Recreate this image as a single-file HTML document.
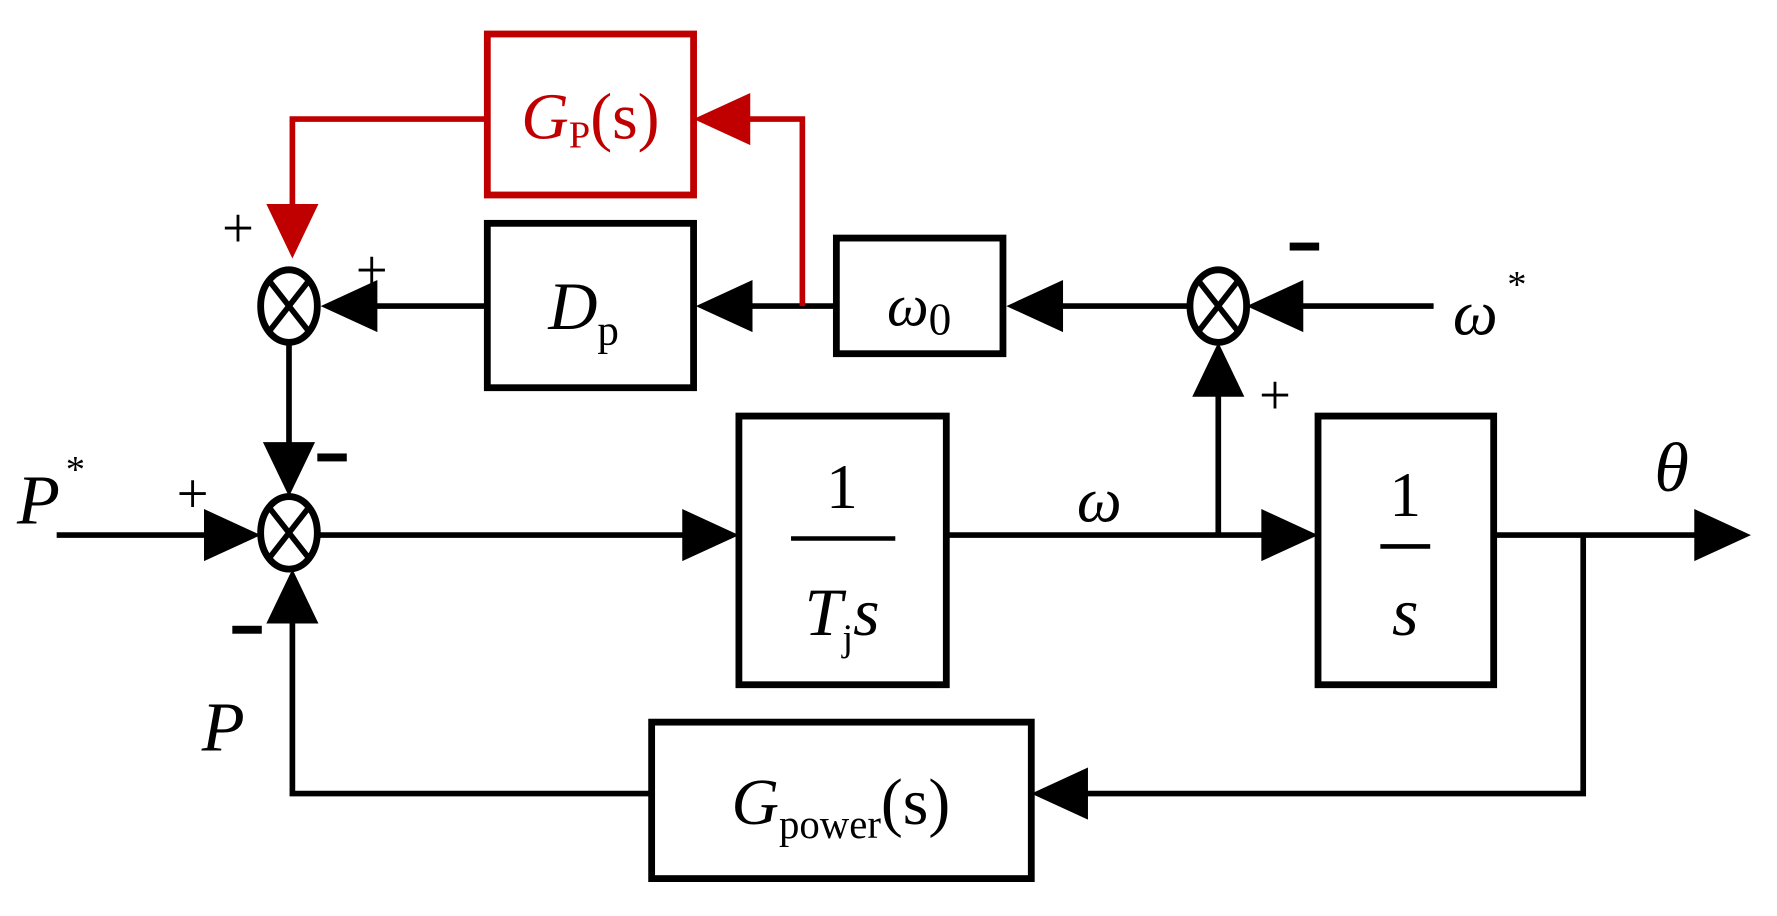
<!DOCTYPE html>
<html><head><meta charset="utf-8"><style>html,body{margin:0;padding:0;background:#fff;}svg{display:block}</style></head>
<body>
<svg width="1777" height="916" viewBox="0 0 1568 808" preserveAspectRatio="none" xmlns="http://www.w3.org/2000/svg" font-family="Liberation Serif, serif">
<defs>
<marker id="a" markerWidth="10" markerHeight="10" refX="10" refY="5" orient="auto" markerUnits="userSpaceOnUse" viewBox="0 0 10 10"><path d="M0,0 L10,5 L0,10 z" fill="#000"/></marker>
</defs>
<g fill="none" stroke="#000" stroke-width="6">
<!-- boxes -->
<rect x="430" y="197" width="182" height="145"/>
<rect x="738" y="210" width="147" height="102"/>
<rect x="652" y="367" width="183" height="237"/>
<rect x="1163" y="367" width="155" height="237"/>
<rect x="575" y="637" width="335" height="138"/>
<!-- sums -->
<ellipse cx="255" cy="270" rx="25" ry="32"/>
<ellipse cx="1075" cy="270" rx="25" ry="32"/>
<ellipse cx="255" cy="470" rx="25" ry="32"/>
</g>
<g stroke="#000" stroke-width="5">
<line x1="237" y1="247" x2="273" y2="293"/><line x1="273" y1="247" x2="237" y2="293"/>
<line x1="1057" y1="247" x2="1093" y2="293"/><line x1="1093" y1="247" x2="1057" y2="293"/>
<line x1="237" y1="447" x2="273" y2="493"/><line x1="273" y1="447" x2="237" y2="493"/>
<!-- connectors -->
<line x1="430" y1="270" x2="330" y2="270"/>
<line x1="738" y1="270" x2="660" y2="270"/>
<line x1="1050" y1="270" x2="935" y2="270"/>
<line x1="1265" y1="270" x2="1147" y2="270"/>
<line x1="255" y1="302" x2="255" y2="395"/>
<line x1="50" y1="472" x2="185" y2="472"/>
<line x1="280" y1="472" x2="605" y2="472"/>
<line x1="835" y1="472" x2="1118" y2="472"/>
<line x1="1075" y1="472" x2="1075" y2="345"/>
<line x1="1318" y1="472" x2="1500" y2="472"/>
<polyline fill="none" points="1397,472 1397,700 955,700"/>
<polyline fill="none" points="575,700 258,700 258,545"/>
</g>
<g fill="#000">
<polygon points="283,270 333,247 333,293"/>
<polygon points="614,270 664,247 664,293"/>
<polygon points="888,270 938,247 938,293"/>
<polygon points="1100,270 1150,247 1150,293"/>
<polygon points="255,438 232,390 278,390"/>
<polygon points="230,472 180,449 180,495"/>
<polygon points="652,472 602,449 602,495"/>
<polygon points="1163,472 1113,449 1113,495"/>
<polygon points="1075,302 1052,350 1098,350"/>
<polygon points="1545,472 1495,449 1495,495"/>
<polygon points="910,700 960,677 960,723"/>
<polygon points="258,502 235,550 281,550"/>
</g>
<!-- red -->
<g stroke="#c00000" fill="none" stroke-width="6">
<rect x="430" y="30" width="182" height="142"/>
<polyline stroke-width="5" points="430,105 258,105 258,190"/>
<polyline stroke-width="5" points="708,270 708,105 660,105"/>
</g>
<g fill="#c00000">
<polygon points="258,228 235,180 281,180"/>
<polygon points="612,105 662,82 662,128"/>
</g>
<text x="521" y="122" font-size="58" fill="#c00000" text-anchor="middle"><tspan font-style="italic">G</tspan><tspan font-size="34" dy="8">P</tspan><tspan dy="-8">(s)</tspan></text>
<g fill="#000">
<text x="515" y="290" font-size="60" text-anchor="middle"><tspan font-style="italic">D</tspan><tspan font-size="38" dy="14">p</tspan></text>
<text x="811" y="287" font-size="52" text-anchor="middle"><tspan font-style="italic">ω</tspan><tspan font-size="40" dy="8">0</tspan></text>
<text x="743" y="448" font-size="56" text-anchor="middle">1</text>
<line x1="698" y1="475" x2="790" y2="475" stroke="#000" stroke-width="4"/>
<text x="743" y="560" font-size="60" text-anchor="middle"><tspan font-style="italic">T</tspan><tspan font-size="34" dy="14">j</tspan><tspan font-style="italic" dy="-14">s</tspan></text>
<text x="1240" y="455" font-size="56" text-anchor="middle">1</text>
<line x1="1218" y1="482" x2="1262" y2="482" stroke="#000" stroke-width="4"/>
<text x="1240" y="560" font-size="60" text-anchor="middle" font-style="italic">s</text>
<text x="742" y="727" font-size="58" text-anchor="middle"><tspan font-style="italic">G</tspan><tspan font-size="36" dy="12">power</tspan><tspan dy="-12">(s)</tspan></text>
<text x="970" y="460" font-size="56" text-anchor="middle" font-style="italic">ω</text>
<text x="1475" y="433" font-size="62" text-anchor="middle" font-style="italic">θ</text>
<text x="1282" y="295" font-size="56" font-style="italic">ω</text>
<text x="1330" y="262" font-size="34">*</text>
<text x="15" y="462" font-size="62" font-style="italic">P</tspan></text>
<text x="58" y="425" font-size="34">*</text>
<text x="178" y="662" font-size="62" font-style="italic">P</text>
<text x="210" y="218" font-size="50" text-anchor="middle">+</text>
<text x="328" y="255" font-size="50" text-anchor="middle">+</text>
<text x="170" y="452" font-size="50" text-anchor="middle">+</text>
<text x="1125" y="365" font-size="50" text-anchor="middle">+</text>
<rect x="280" y="400" width="26" height="7"/>
<rect x="205" y="552" width="26" height="7"/>
<rect x="1138" y="214" width="26" height="7"/>
</g>
</svg>
</body></html>
